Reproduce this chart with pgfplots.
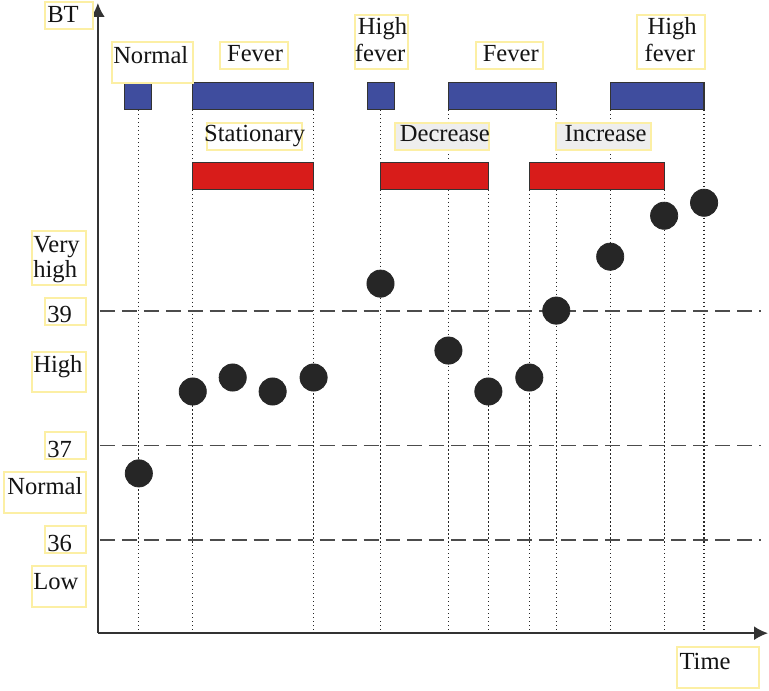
\documentclass[border=0pt]{standalone}
\usepackage{pgfplots}
\pgfplotsset{compat=1.18}
\usepackage{fontspec}
\setmainfont{Liberation Serif}
\usetikzlibrary{arrows.meta}
\definecolor{barblue}{HTML}{3F4D9E}
\definecolor{barred}{HTML}{D81C1A}
\definecolor{bord}{HTML}{333333}
\definecolor{dotc}{HTML}{262626}
\definecolor{boxy}{HTML}{FCEFA4}
\definecolor{boxg}{HTML}{EEEEEE}
\newcommand\lab{\fontsize{12.3}{13}\selectfont}
\tikzset{
  bar/.style={draw=bord, line width=0.6pt},
  vdot/.style={dash pattern=on 0.6pt off 1.4pt, line width=0.6pt, color=black!85},
  hdash/.style={dash pattern=on 7.5pt off 3.5pt, line width=0.9pt, color=black!70},
  bx/.style={draw=boxy, line width=1pt, fill=white},
  tx/.style={anchor=base west, inner sep=0pt, font=\lab, text=black!92},
}
\begin{document}
\begin{tikzpicture}
\begin{axis}[
  scale only axis, width=384.5pt, height=345.5pt,
  xmin=0, xmax=769, ymin=0, ymax=691, y dir=reverse,
  hide axis, clip=false,
]
\path (axis cs:0,0) rectangle (axis cs:769,691);
% dotted verticals
\addplot[vdot] coordinates {(139,110) (139,634)};
\addplot[vdot] coordinates {(193,110) (193,634)};
\addplot[vdot] coordinates {(314,110) (314,634)};
\addplot[vdot] coordinates {(381,110) (381,634)};
\addplot[vdot] coordinates {(449,110) (449,634)};
\addplot[vdot] coordinates {(489,190) (489,634)};
\addplot[vdot] coordinates {(530,190) (530,634)};
\addplot[vdot] coordinates {(557,110) (557,634)};
\addplot[vdot] coordinates {(611,110) (611,634)};
\addplot[vdot] coordinates {(665,190) (665,634)};
\addplot[vdot] coordinates {(705,110) (705,634)};
% dashed thresholds (39, 37, 36)
\addplot[hdash] coordinates {(100,311) (762,311)};
\addplot[hdash] coordinates {(100,446) (762,446)};
\addplot[hdash] coordinates {(100,541) (762,541)};
% blue bars (qualitative BT)
\addplot[bar, fill=barblue] coordinates {(125,83) (152,83) (152,110) (125,110)} -- cycle;
\addplot[bar, fill=barblue] coordinates {(193,83) (314,83) (314,110) (193,110)} -- cycle;
\addplot[bar, fill=barblue] coordinates {(368,83) (395,83) (395,110) (368,110)} -- cycle;
\addplot[bar, fill=barblue] coordinates {(449,83) (557,83) (557,110) (449,110)} -- cycle;
\addplot[bar, fill=barblue] coordinates {(611,83) (705,83) (705,110) (611,110)} -- cycle;
% red bars (trends)
\addplot[bar, fill=barred] coordinates {(193,163) (314,163) (314,190) (193,190)} -- cycle;
\addplot[bar, fill=barred] coordinates {(381,163) (489,163) (489,190) (381,190)} -- cycle;
\addplot[bar, fill=barred] coordinates {(530,163) (665,163) (665,190) (530,190)} -- cycle;
% axes
\addplot[line width=1pt, color=bord, -{Latex[length=7pt, width=7pt]}] coordinates {(98,634) (98,3)};
\addplot[line width=1pt, color=bord, -{Latex[length=7pt, width=7pt]}] coordinates {(98,634) (769,634)};
% measurements
\addplot[only marks, mark=*, mark size=6.8pt, color=dotc] coordinates {
 (139,474) (193,392) (233,378) (273,392) (314,378) (381,284) (449,351)
 (489,392) (530,378) (557,311) (611,257) (665,216) (705,203)};
% label boxes
\draw[bx] (axis cs:45,2) rectangle (axis cs:93,29);
\draw[bx] (axis cs:112,42) rectangle (axis cs:193,83);
\draw[bx] (axis cs:220,42) rectangle (axis cs:288,69);
\draw[bx] (axis cs:355,15) rectangle (axis cs:409,69);
\draw[bx] (axis cs:477,42) rectangle (axis cs:544,69);
\draw[bx] (axis cs:638,15) rectangle (axis cs:706,69);
\draw[bx] (axis cs:207,123) rectangle (axis cs:302,150);
\draw[bx, fill=boxg] (axis cs:396,123) rectangle (axis cs:490,150);
\draw[bx, fill=boxg] (axis cs:557,123) rectangle (axis cs:652,150);
\draw[bx] (axis cs:32,231) rectangle (axis cs:86,285);
\draw[bx] (axis cs:45,298) rectangle (axis cs:86,325);
\draw[bx] (axis cs:32,352) rectangle (axis cs:86,393);
\draw[bx] (axis cs:45,433) rectangle (axis cs:86,460);
\draw[bx] (axis cs:4,473) rectangle (axis cs:86,514);
\draw[bx] (axis cs:45,527) rectangle (axis cs:86,554);
\draw[bx] (axis cs:32,567) rectangle (axis cs:86,608);
\draw[bx] (axis cs:678,648) rectangle (axis cs:760,689);
% texts
\node[tx] at (axis cs:47,23) {BT};
\node[tx] at (axis cs:113,64) {Normal};
\node[tx] at (axis cs:227,62) {Fever};
\node[tx] at (axis cs:358,35) {High};
\node[tx] at (axis cs:355,62) {fever};
\node[tx] at (axis cs:483,62) {Fever};
\node[tx] at (axis cs:648,35) {High};
\node[tx] at (axis cs:645,62) {fever};
\node[tx] at (axis cs:204,142) {Stationary};
\node[tx] at (axis cs:400,142) {Decrease};
\node[tx] at (axis cs:565,142) {Increase};
\node[tx] at (axis cs:33,253) {Very};
\node[tx] at (axis cs:33,278) {high};
\node[tx] at (axis cs:47,323) {39};
\node[tx] at (axis cs:33,373) {High};
\node[tx] at (axis cs:47,458) {37};
\node[tx] at (axis cs:7,495) {Normal};
\node[tx] at (axis cs:47,552) {36};
\node[tx] at (axis cs:33,590) {Low};
\node[tx] at (axis cs:680,670) {Time};
\end{axis}
\end{tikzpicture}
\end{document}
